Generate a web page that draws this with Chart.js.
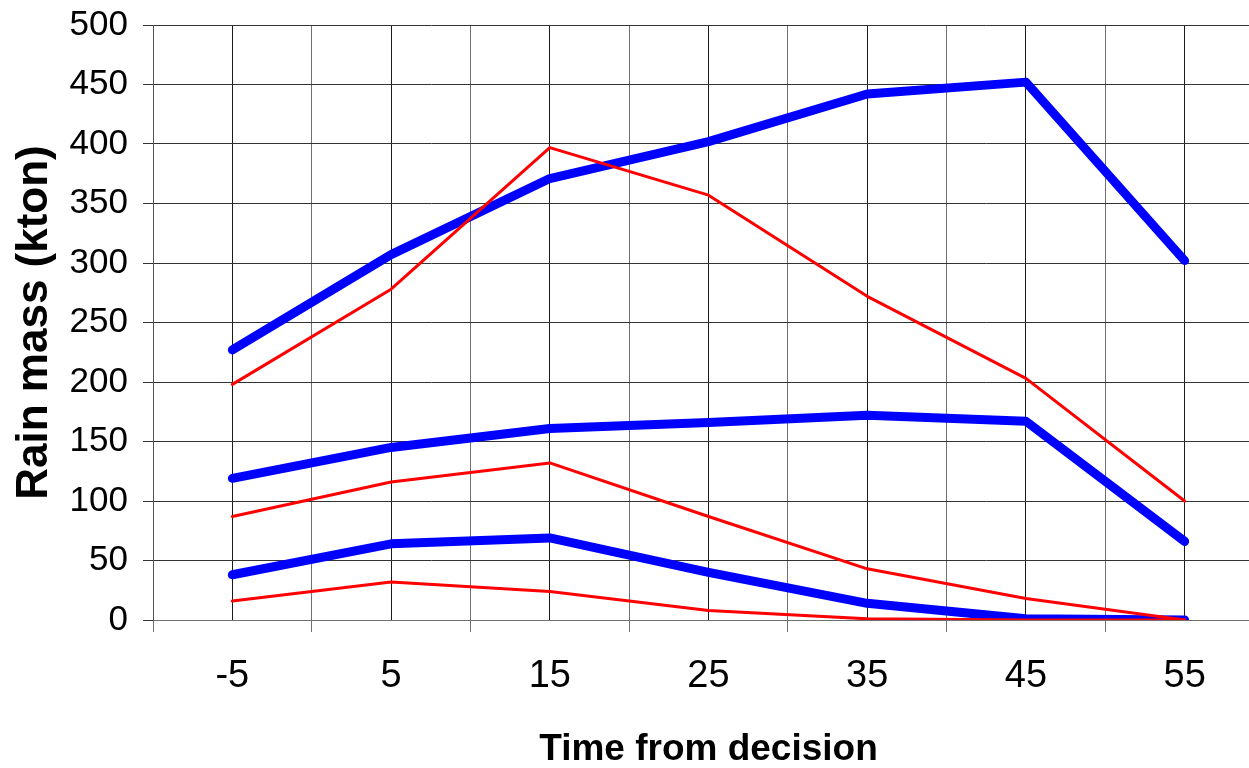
<!DOCTYPE html>
<html>
<head>
<meta charset="utf-8">
<script src="https://cdn.jsdelivr.net/npm/chart.js@4"></script>
<style>
  html, body { margin: 0; padding: 0; background: #fff; overflow: hidden; }
  #wrap { position: relative; width: 1286px; height: 768px; }
</style>
</head>
<body>
<div id="wrap"><canvas id="rainChart"></canvas></div>
<script>
// --- DATA ---
const times = [-5, 5, 15, 25, 35, 45, 55];
const blueHigh = [227, 307, 371, 402, 442, 452, 302];
const blueMid  = [119, 145, 161, 166, 172, 167, 66];
const blueLow  = [38, 64, 69, 40, 14, 1, 0];
const redHigh  = [198, 278, 397, 357, 272, 203, 100];
const redMid   = [87, 116, 132, 87, 43, 18, 0];
const redLow   = [16, 32, 24, 8, 1, 0, 0];

const yTicks = [0, 50, 100, 150, 200, 250, 300, 350, 400, 450, 500];

// helpers
function pts(arr) { return times.map((t, i) => ({ x: t, y: arr[i] })); }
function isCenter(v) { return ((v + 5) % 10 + 10) % 10 === 0; }

function makeSet(arr, color, width) {
  return {
    data: pts(arr), borderColor: color, backgroundColor: color,
    borderWidth: width, pointRadius: 0, pointHoverRadius: 0, tension: 0,
    borderCapStyle: 'round', borderJoinStyle: 'round'
  };
}

new Chart(document.getElementById('rainChart'), {
  type: 'line',
  data: {
    datasets: [
      makeSet(redLow, '#ff0000', 3),
      makeSet(redMid, '#ff0000', 3),
      makeSet(redHigh, '#ff0000', 3),
      makeSet(blueLow, '#0000ff', 9),
      makeSet(blueMid, '#0000ff', 9),
      makeSet(blueHigh, '#0000ff', 9)
    ]
  },
  options: {
    responsive: true, maintainAspectRatio: false, animation: false,
    layout: { autoPadding: false, padding: { top: 25, left: 13, right: 0, bottom: 0 } },
    plugins: { legend: { display: false }, tooltip: { enabled: false } },
    scales: {
      x: {
        type: 'linear', min: -10, max: 60,
        afterFit: s => { s.height = 148; },
        ticks: {
          stepSize: 5, autoSkip: false, maxRotation: 0, padding: 22,
          color: '#000', font: { family: 'Liberation Sans, Arial', size: 38 },
          callback: v => isCenter(v) ? String(v) : ''
        },
        grid: {
          color: ctx => isCenter(ctx.tick.value) ? '#1a1a1a' : '#707070',
          tickColor: ctx => isCenter(ctx.tick.value) ? 'rgba(0,0,0,0)' : '#707070',
          tickLength: 12, lineWidth: 1
        },
        border: { color: '#707070', width: 1 },
        title: {
          display: true, text: 'Time from decision', color: '#000',
          font: { family: 'Liberation Sans, Arial', size: 37, weight: 'bold', lineHeight: 1 },
          padding: 0
        }
      },
      y: {
        min: 0, max: 500,
        afterBuildTicks: s => { s.ticks = yTicks.map(v => ({ value: v })); },
        afterFit: s => { s.width = 140; s.paddingTop = 0; s.paddingBottom = 0; },
        ticks: {
          padding: 15, color: '#000',
          font: { family: 'Liberation Sans, Arial', size: 35 }
        },
        grid: { color: '#333', tickColor: '#333', tickLength: 10, lineWidth: 1 },
        border: { color: '#555', width: 1 },
        title: {
          display: true, text: 'Rain mass (kton)', color: '#000',
          font: { family: 'Liberation Sans, Arial', size: 44, weight: 'bold', lineHeight: 1 },
          padding: 0
        }
      }
    }
  }
});
</script>
</body>
</html>
